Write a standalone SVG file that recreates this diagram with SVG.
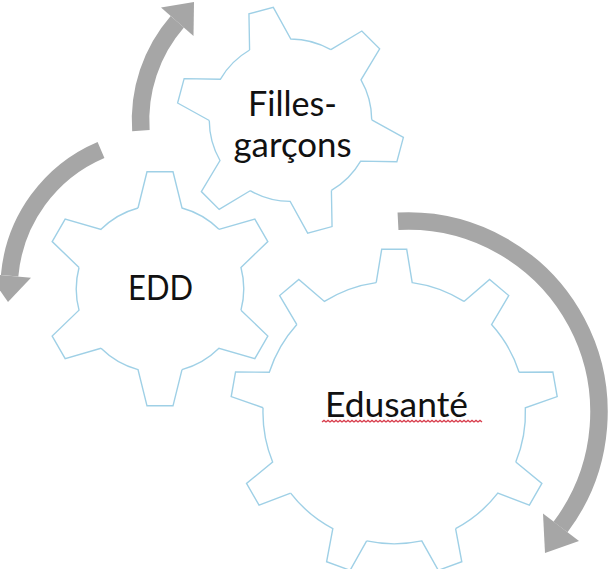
<svg xmlns="http://www.w3.org/2000/svg" xmlns:xlink="http://www.w3.org/1999/xlink" width="612" height="569" viewBox="0 0 612 569">
<style>
.gear{fill:none;stroke:#9fd0e6;stroke-width:1.4;stroke-linejoin:miter;vector-effect:non-scaling-stroke}
.shaft{fill:none;stroke:#a6a6a6;stroke-width:17.5}
.head{fill:#a6a6a6}
.lbl{font-family:"Lato","Liberation Sans",sans-serif;font-size:34px;fill:#111;text-anchor:middle}
</style>
<defs>
<path id="t6" d="M-22,-80.8 L-13,-117 L13,-117 L22,-80.8 A83.74,83.74 0 0 1 58.97,-59.45"/>
<path id="t9" d="M-18,-130 L-12.5,-163.3 L12.5,-163.3 L18,-130 A131.24,131.24 0 0 1 69.78,-111.15"/>
</defs>
<rect width="612" height="569" fill="#fff"/>
<g id="connectors">
<path class="shaft" d="M398,221.3 A191,191 0 0 1 560.5,527"/>
<polygon class="head" points="543,513.5 579,541 545,553"/>
<path class="shaft" d="M101,150 A151,151 0 0 0 9.6,275.8"/>
<polygon class="head" points="31,277.7 -11.3,274 8,302"/>
<path class="shaft" d="M140.9,130.7 A150,150 0 0 1 177.3,21.8"/>
<polygon class="head" points="193.5,36 161,7.5 194,2"/>
</g>
<g id="edusante">
<g transform="translate(394.2,412.6)" class="gear">
<use xlink:href="#t9"/><use xlink:href="#t9" transform="rotate(40)"/><use xlink:href="#t9" transform="rotate(80)"/>
<use xlink:href="#t9" transform="rotate(120)"/><use xlink:href="#t9" transform="rotate(160)"/><use xlink:href="#t9" transform="rotate(200)"/>
<use xlink:href="#t9" transform="rotate(240)"/><use xlink:href="#t9" transform="rotate(280)"/><use xlink:href="#t9" transform="rotate(320)"/>
</g>
<text class="lbl" x="396.5" y="416.7" textLength="143" lengthAdjust="spacingAndGlyphs">Edusanté</text>
<path d="M322,422 l2,-1.6 l2,1.6 l2,-1.6 l2,1.6 l2,-1.6 l2,1.6 l2,-1.6 l2,1.6 l2,-1.6 l2,1.6 l2,-1.6 l2,1.6 l2,-1.6 l2,1.6 l2,-1.6 l2,1.6 l2,-1.6 l2,1.6 l2,-1.6 l2,1.6 l2,-1.6 l2,1.6 l2,-1.6 l2,1.6 l2,-1.6 l2,1.6 l2,-1.6 l2,1.6 l2,-1.6 l2,1.6 l2,-1.6 l2,1.6 l2,-1.6 l2,1.6 l2,-1.6 l2,1.6 l2,-1.6 l2,1.6 l2,-1.6 l2,1.6 l2,-1.6 l2,1.6 l2,-1.6 l2,1.6 l2,-1.6 l2,1.6 l2,-1.6 l2,1.6 l2,-1.6 l2,1.6 l2,-1.6 l2,1.6 l2,-1.6 l2,1.6 l2,-1.6 l2,1.6 l2,-1.6 l2,1.6 l2,-1.6 l2,1.6 l2,-1.6 l2,1.6 l2,-1.6 l2,1.6 l2,-1.6 l2,1.6 l2,-1.6 l2,1.6 l2,-1.6 l2,1.6 l2,-1.6 l2,1.6 l2,-1.6 l2,1.6 l2,-1.6 l2,1.6 l2,-1.6 l2,1.6 l2,-1.6 l2,1.6" fill="none" stroke="#d9404f" stroke-width="1.3"/>
</g>
<g id="edd">
<g transform="translate(160,288.8)" class="gear">
<use xlink:href="#t6"/><use xlink:href="#t6" transform="rotate(60)"/><use xlink:href="#t6" transform="rotate(120)"/>
<use xlink:href="#t6" transform="rotate(180)"/><use xlink:href="#t6" transform="rotate(240)"/><use xlink:href="#t6" transform="rotate(300)"/>
</g>
<text class="lbl" x="160.5" y="300" textLength="65" lengthAdjust="spacingAndGlyphs">EDD</text>
</g>
<g id="filles">
<g transform="translate(290.5,120.2) rotate(-15) scale(0.97)" class="gear">
<use xlink:href="#t6"/><use xlink:href="#t6" transform="rotate(60)"/><use xlink:href="#t6" transform="rotate(120)"/>
<use xlink:href="#t6" transform="rotate(180)"/><use xlink:href="#t6" transform="rotate(240)"/><use xlink:href="#t6" transform="rotate(300)"/>
</g>
<text class="lbl" x="292.5" y="115.5" textLength="89" lengthAdjust="spacingAndGlyphs">Filles-</text>
<text class="lbl" x="292.5" y="156.5" textLength="118" lengthAdjust="spacingAndGlyphs">garçons</text>
</g>
</svg>
